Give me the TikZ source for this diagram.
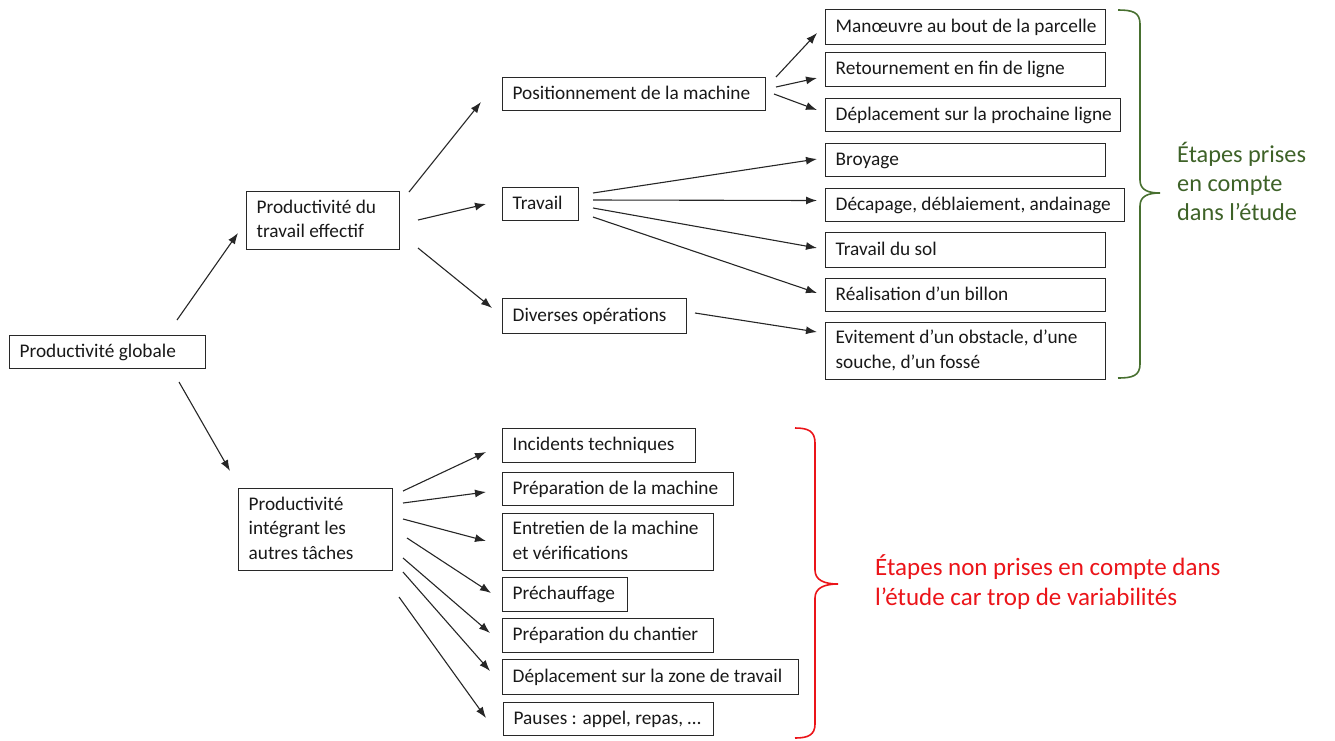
\documentclass[tikz,border=0pt]{standalone}
\usepackage{fontspec}
\setmainfont{Carlito}
\usetikzlibrary{arrows.meta,calc}
\definecolor{boxline}{RGB}{40,40,40}
\definecolor{txt}{RGB}{25,25,25}
\definecolor{okgreen}{RGB}{62,98,40}
\definecolor{bracegreen}{RGB}{72,112,48}
\definecolor{nored}{RGB}{235,20,25}
\newcommand\bxt[2]{\makebox[#1][l]{\begin{tabular}{@{}l@{}}#2\end{tabular}}}
\begin{document}
\begin{tikzpicture}[x=1pt,y=-1pt,
  box/.style={draw=boxline, line width=1.3pt, rectangle, anchor=north west,
    inner xsep=10pt, inner ysep=0pt, text=txt,
    font=\fontsize{19.3}{24.5}\selectfont},
  conn/.style={draw=black!85, line width=1.1pt, -{Latex[length=11pt,width=8pt]}},
  brace/.style={line width=1.6pt},
  note/.style={anchor=base west, inner sep=0pt}]
\useasboundingbox (0,0) rectangle (1335,740);

% level 0 and 1
\node[box, minimum width=196pt, minimum height=33pt] (glob) at (9,335) {\bxt{176pt}{Productivité globale}};
\node[box, minimum width=153pt, minimum height=58pt] (eff) at (246,191) {\bxt{133pt}{Productivité du\\travail effectif}};
\node[box, minimum width=154pt, minimum height=82pt] (integ) at (238,488) {\bxt{134pt}{Productivité\\intégrant les\\autres tâches}};

% level 2
\node[box, minimum width=263pt, minimum height=33pt] (pos) at (502,77) {\bxt{243pt}{Positionnement de la machine}};
\node[box, minimum width=76pt, minimum height=33pt] (trav) at (502,187) {\bxt{56pt}{Travail}};
\node[box, minimum width=184pt, minimum height=35pt] (div) at (502,298) {\bxt{164pt}{Diverses opérations}};

% level 3 (top)
\node[box, minimum width=280pt, minimum height=35pt] (m1) at (825,9) {\bxt{260pt}{Manœuvre au bout de la parcelle}};
\node[box, minimum width=280pt, minimum height=34pt] (m2) at (825,52) {\bxt{260pt}{Retournement en fin de ligne}};
\node[box, minimum width=295pt, minimum height=33pt] (m3) at (825,98) {\bxt{275pt}{Déplacement sur la prochaine ligne}};
\node[box, minimum width=280pt, minimum height=33pt] (t1) at (825,143) {\bxt{260pt}{Broyage}};
\node[box, minimum width=299pt, minimum height=33pt] (t2) at (825,188) {\bxt{279pt}{Décapage, déblaiement, andainage}};
\node[box, minimum width=280pt, minimum height=35pt] (t3) at (825,232) {\bxt{260pt}{Travail du sol}};
\node[box, minimum width=280pt, minimum height=33pt] (t4) at (825,278) {\bxt{260pt}{Réalisation d’un billon}};
\node[box, minimum width=280pt, minimum height=57pt] (d1) at (825,322) {\bxt{260pt}{Evitement d’un obstacle, d’une\\souche, d’un fossé}};

% level 2 (bottom)
\node[box, minimum width=193pt, minimum height=34pt] (o1) at (502,428) {\bxt{173pt}{Incidents techniques}};
\node[box, minimum width=231pt, minimum height=33pt] (o2) at (502,472) {\bxt{211pt}{Préparation de la machine}};
\node[box, minimum width=211pt, minimum height=57pt] (o3) at (502,513) {\bxt{191pt}{Entretien de la machine\\et vérifications}};
\node[box, minimum width=125pt, minimum height=34pt] (o4) at (502,577) {\bxt{105pt}{Préchauffage}};
\node[box, minimum width=211pt, minimum height=34pt] (o5) at (502,618) {\bxt{191pt}{Préparation du chantier}};
\node[box, minimum width=296pt, minimum height=35pt] (o6) at (502,659) {\bxt{276pt}{Déplacement sur la zone de travail}};
\node[box, minimum width=210pt, minimum height=33pt] (o7) at (503,702) {\bxt{190pt}{Pauses : appel, repas, …}};

% connectors
\draw[conn] ([shift={(168,-15)}]glob.north west) -- ([shift={(-8,42)}]eff.north west);
\draw[conn] ([shift={(170,47)}]glob.north west) -- ([shift={(-8,-17)}]integ.north west);

\draw[conn] ([shift={(163,1)}]eff.north west) -- ([shift={(-21,25)}]pos.north west);
\draw[conn] ([shift={(172,29)}]eff.north west) -- ([shift={(-16,17)}]trav.north west);
\draw[conn] ([shift={(172,57)}]eff.north west) -- ([shift={(-10,10)}]div.north west);

\draw[conn] ([shift={(274,0)}]pos.north west) -- ([shift={(-8,24)}]m1.north west);
\draw[conn] ([shift={(274,10)}]pos.north west) -- ([shift={(-8,26)}]m2.north west);
\draw[conn] ([shift={(272,17)}]pos.north west) -- ([shift={(-8,12)}]m3.north west);

\draw[conn] ([shift={(91,6)}]trav.north west) -- ([shift={(-8,16)}]t1.north west);
\draw[conn] ([shift={(91,13)}]trav.north west) -- ([shift={(-8,12.5)}]t2.north west);
\draw[conn] ([shift={(91,21)}]trav.north west) -- ([shift={(-8,16)}]t3.north west);
\draw[conn] ([shift={(91,30)}]trav.north west) -- ([shift={(-8,15)}]t4.north west);

\draw[conn] ([shift={(193,15)}]div.north west) -- ([shift={(-8,10)}]d1.north west);

\draw[conn] ([shift={(165,3)}]integ.north west) -- ([shift={(-16,24)}]o1.north west);
\draw[conn] ([shift={(165,15)}]integ.north west) -- ([shift={(-16,20)}]o2.north west);
\draw[conn] ([shift={(165,31)}]integ.north west) -- ([shift={(-16,28)}]o3.north west);
\draw[conn] ([shift={(169,50)}]integ.north west) -- ([shift={(-11,16)}]o4.north west);
\draw[conn] ([shift={(165,70)}]integ.north west) -- ([shift={(-12,15)}]o5.north west);
\draw[conn] ([shift={(165,84)}]integ.north west) -- ([shift={(-12,12)}]o6.north west);
\draw[conn] ([shift={(161,109)}]integ.north west) -- ([shift={(-17,16)}]o7.north west);

% green brace and note
\draw[brace, bracegreen] (1118,10) .. controls (1132,10) and (1140,12) .. (1140,24)
  -- (1140,180) .. controls (1140,190) and (1148,193) .. (1160,193)
  .. controls (1148,193) and (1140,196) .. (1140,206)
  -- (1140,364) .. controls (1140,376) and (1132,378) .. (1118,378);
\node[note, text=okgreen, font=\fontsize{24.3}{29}\selectfont] (g1) at (1177,162) {Étapes prises};
\node[note, text=okgreen, font=\fontsize{24.3}{29}\selectfont] (g2) at (1177,191) {en compte};
\node[note, text=okgreen, font=\fontsize{24.3}{29}\selectfont] (g3) at (1177,220) {dans l’étude};

% red brace and note
\draw[brace, nored] (795,428) .. controls (808,428) and (815,431) .. (815,443)
  -- (815,570) .. controls (815,580) and (824,584) .. (838,584)
  .. controls (824,584) and (815,588) .. (815,598)
  -- (815,724) .. controls (815,735) and (808,738) .. (795,738);
\node[note, text=nored, font=\fontsize{25}{30}\selectfont] (r1) at (875,575) {Étapes non prises en compte dans};
\node[note, text=nored, font=\fontsize{25}{30}\selectfont] (r2) at (875,605) {l’étude car trop de variabilités};
\end{tikzpicture}
\end{document}
